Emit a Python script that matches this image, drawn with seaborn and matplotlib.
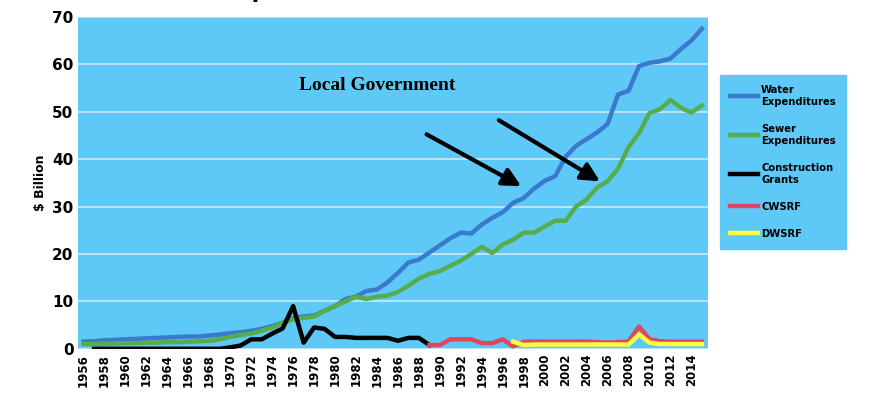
import numpy as np
import pandas as pd
import matplotlib
matplotlib.use("Agg")
import matplotlib.pyplot as plt
import seaborn as sns

years = list(range(1956, 2016))
water = [1.5, 1.6, 1.8, 1.9, 2.0, 2.1, 2.2, 2.3, 2.4, 2.5, 2.6, 2.6, 2.8, 3.0, 3.3, 3.5, 3.8, 4.2, 4.8, 5.5,
         6.5, 6.8, 7.0, 8.0, 9.0, 10.5, 11.0, 12.2, 12.5, 14.0, 16.0, 18.2, 18.8, 20.3, 21.8, 23.3, 24.5, 24.3,
         26.2, 27.6, 28.8, 30.8, 31.8, 33.8, 35.4, 36.4, 40.5, 42.8, 44.2, 45.6, 47.4, 53.6, 54.4, 59.6, 60.3,
         60.6, 61.2, 63.2, 65.0, 67.5]
sewer = [1.0, 1.0, 1.1, 1.1, 1.2, 1.2, 1.3, 1.3, 1.4, 1.4, 1.5, 1.6, 1.7, 2.0, 2.5, 2.9, 3.2, 3.8, 4.5, 5.5,
         6.2, 6.5, 6.8, 8.0, 9.0, 10.0, 11.0, 10.5, 11.0, 11.2, 12.0, 13.3, 14.8, 15.8, 16.4, 17.5, 18.6, 20.0,
         21.5, 20.2, 22.0, 23.0, 24.5, 24.5, 25.8, 27.0, 27.0, 30.0, 31.5, 34.0, 35.3, 38.0, 42.5, 45.5,
         49.7, 50.5, 52.5, 50.8, 49.8, 51.3]
grant_years = list(range(1957, 1990))
grants = [0, 0, 0, 0, 0, 0, 0, 0, 0, 0, 0, 0, 0, 0.3, 0.7, 2.0, 2.0, 3.2, 4.3, 9.0, 1.3, 4.5, 4.2, 2.5,
          2.5, 2.3, 2.3, 2.3, 2.3, 1.7, 2.3, 2.3, 0.8]
cw_years = list(range(1989, 2016))
cwsrf = [0.8, 0.8, 2.0, 2.0, 2.0, 1.2, 1.2, 2.0, 0.5, 1.5, 1.5, 1.5, 1.5, 1.5, 1.5, 1.5, 1.4, 1.3, 1.4,
         1.5, 4.7, 2.0, 1.6, 1.5, 1.5, 1.5, 1.5]
dw_years = list(range(1997, 2016))
dwsrf = [1.5, 0.8, 0.9, 0.9, 0.9, 0.9, 0.9, 0.9, 0.9, 0.9, 0.9, 0.9, 3.0, 1.3, 1.0, 1.0, 1.0, 1.0, 1.0]

bg = "#5ec8f7"
fig = plt.figure(figsize=(8.7, 4), dpi=100)
ax = fig.add_axes([0.09, 0.128, 0.724, 0.83])
ax.set_facecolor(bg)

series = [("Water\nExpenditures", years, water, "#3a7acd"),
          ("Sewer\nExpenditures", years, sewer, "#55ad4c"),
          ("Construction\nGrants", grant_years, grants, "black"),
          ("CWSRF", cw_years, cwsrf, "#e0475c"),
          ("DWSRF", dw_years, dwsrf, "#ffff40")]
for label, xs, ys, c in series:
    sns.lineplot(x=xs, y=ys, ax=ax, color=c, lw=3.2, label=label)

ax.set_xlim(1955.5, 2015.6)
ax.set_ylim(0, 70)
ax.set_yticks(range(0, 71, 10))
ax.set_xticks(range(1956, 2015, 2))
ax.tick_params(axis="x", rotation=90, labelsize=8.5, length=0)
ax.tick_params(axis="y", labelsize=11, length=0)
for lab in ax.get_xticklabels() + ax.get_yticklabels():
    lab.set_fontweight("bold")
ax.grid(axis="y", color="#cfe9f5", lw=1.2)
ax.set_axisbelow(True)
for s in ax.spines.values():
    s.set_visible(False)
ax.set_ylabel("$ Billion", fontsize=9, fontweight="bold")

fig.text(0.47, 1.02, "Source of Expenditures on Local Water and Sewer", fontsize=16,
         fontweight="bold", ha="center", va="center")

ax.text(1976.6, 54.5, "Local Government", family="Liberation Serif", fontsize=14, fontweight="bold")
ax.annotate("", xy=(1998.0, 34.0), xytext=(1988.5, 45.5),
            arrowprops=dict(arrowstyle="-|>,head_width=0.55,head_length=1.1", lw=3, color="black"))
ax.annotate("", xy=(2005.5, 35.0), xytext=(1995.4, 48.5),
            arrowprops=dict(arrowstyle="-|>,head_width=0.55,head_length=1.1", lw=3, color="black"))

leg = ax.legend(loc="upper left", bbox_to_anchor=(1.01, 0.84), frameon=True, fancybox=False,
                facecolor=bg, edgecolor=bg, framealpha=1, handlelength=2.5, handletextpad=0.3,
                labelspacing=1.55, borderpad=0.9, prop={"family": "DejaVu Sans", "size": 8,
                                                        "stretch": "condensed"})
for t in leg.get_texts():
    t.set_fontweight("bold")

fig.savefig("out.png", dpi=100)
